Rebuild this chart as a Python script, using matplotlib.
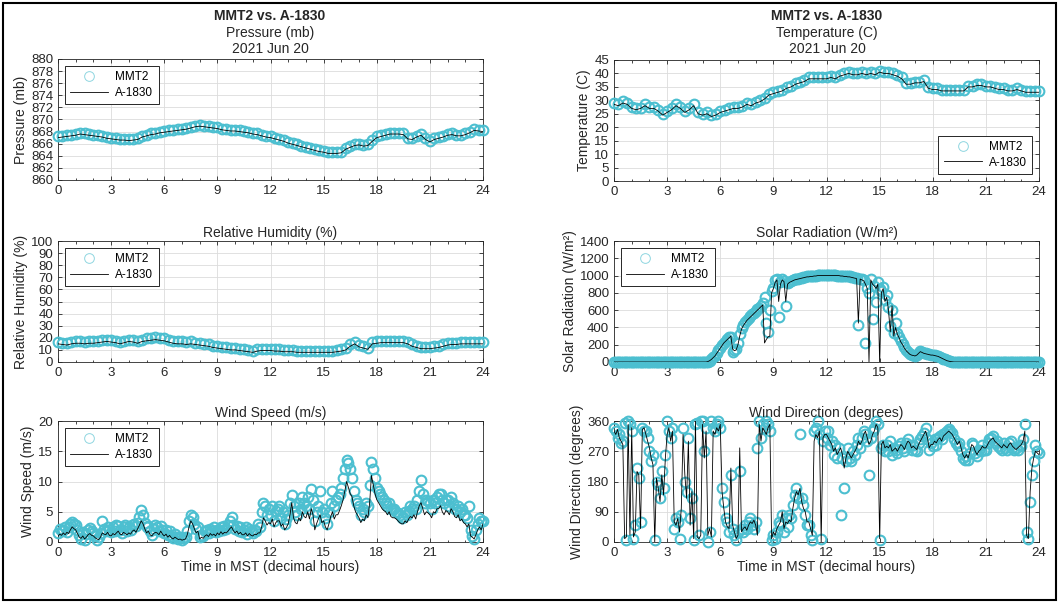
import numpy as np
import matplotlib
matplotlib.use('Agg')
import matplotlib.pyplot as plt
from matplotlib.patches import Rectangle
from matplotlib.ticker import MultipleLocator

plt.rcParams['font.family'] = ['Liberation Sans', 'DejaVu Sans']

# ---- data (hours, MST) ----
t_q = np.arange(97) * 0.25     # quarter-hour grid
t_d = np.arange(241) * 0.1     # tenth-hour grid

pres_mmt2 = [
    867.2, 867.3, 867.4, 867.5, 867.6, 867.8, 867.7, 867.6,
    867.5, 867.4, 867.3, 867.1, 867.0, 866.9, 866.8, 866.8,
    866.7, 866.8, 866.9, 867.3, 867.5, 867.7, 867.8, 868.0,
    868.1, 868.2, 868.3, 868.4, 868.5, 868.6, 868.8, 869.0,
    869.1, 869.0, 868.9, 868.8, 868.7, 868.5, 868.4, 868.3,
    868.3, 868.2, 868.1, 868.0, 867.8, 867.7, 867.5, 867.3,
    867.2, 867.0, 866.8, 866.6, 866.3, 866.1, 865.9, 865.7,
    865.5, 865.3, 865.1, 864.9, 864.8, 864.6, 864.6, 864.6,
    864.7, 865.3, 865.6, 865.9, 866.0, 865.8, 865.9, 866.6,
    867.2, 867.4, 867.6, 867.8, 867.8, 867.8, 867.7, 867.0,
    866.9, 867.3, 867.6, 866.9, 866.5, 866.9, 867.1, 867.3,
    867.6, 867.7, 867.5, 867.5, 867.7, 868.0, 868.4, 868.3,
    868.2]
pres_a1830 = [
    867.0, 867.1, 867.2, 867.3, 867.4, 867.6, 867.5, 867.4,
    867.3, 867.2, 867.1, 866.9, 866.8, 866.7, 866.6, 866.6,
    866.5, 866.6, 866.7, 867.1, 867.3, 867.5, 867.6, 867.8,
    867.9, 868.0, 868.1, 868.2, 868.3, 868.4, 868.6, 868.8,
    868.9, 868.8, 868.7, 868.6, 868.5, 868.3, 868.2, 868.1,
    868.1, 868.0, 867.9, 867.8, 867.6, 867.5, 867.3, 867.1,
    867.0, 866.8, 866.6, 866.4, 866.1, 865.9, 865.7, 865.5,
    865.3, 865.1, 864.9, 864.7, 864.6, 864.4, 864.4, 864.4,
    864.5, 865.1, 865.4, 865.7, 865.8, 865.6, 865.7, 866.4,
    867.0, 867.2, 867.4, 867.6, 867.6, 867.6, 867.5, 866.8,
    866.7, 867.1, 867.4, 866.7, 866.3, 866.7, 866.9, 867.1,
    867.4, 867.5, 867.3, 867.3, 867.5, 867.8, 868.2, 868.1,
    868.0]

temp_mmt2 = [
    29.0, 28.5, 29.8, 29.0, 27.5, 27.0, 27.0, 28.5,
    27.5, 27.5, 26.5, 25.0, 26.0, 27.0, 28.5, 27.5,
    26.0, 27.0, 28.5, 25.5, 25.0, 25.5, 24.5, 25.0,
    26.0, 26.5, 27.0, 27.5, 27.5, 28.0, 29.0, 28.5,
    29.5, 30.0, 31.0, 32.5, 33.0, 33.5, 34.0, 35.0,
    35.5, 36.5, 37.0, 37.5, 38.5, 38.5, 38.5, 38.5,
    38.5, 39.0, 38.5, 39.5, 40.0, 40.5, 40.0, 40.0,
    40.5, 40.0, 40.5, 40.0, 41.0, 40.5, 40.5, 40.0,
    39.5, 38.5, 36.5, 36.5, 37.0, 37.0, 37.5, 35.0,
    34.5, 34.5, 34.0, 34.0, 34.0, 34.0, 34.0, 34.0,
    35.5, 35.5, 36.0, 36.0, 35.5, 35.5, 35.0, 34.5,
    34.5, 34.0, 34.0, 34.5, 34.0, 33.5, 33.5, 33.5,
    33.5]
temp_a1830 = [
    28.5, 28.0, 29.0, 28.5, 27.0, 26.5, 27.0, 28.0,
    27.0, 27.0, 26.0, 24.5, 25.5, 26.5, 28.0, 27.0,
    25.5, 26.5, 28.0, 25.0, 24.5, 25.0, 24.0, 24.5,
    25.5, 26.0, 26.5, 27.0, 27.0, 27.5, 28.5, 28.0,
    29.0, 29.5, 30.5, 32.0, 32.5, 33.0, 33.5, 34.5,
    35.0, 36.0, 36.5, 37.0, 38.0, 38.0, 38.0, 38.0,
    38.0, 38.5, 38.0, 39.0, 39.5, 40.0, 39.5, 39.5,
    40.0, 39.5, 40.0, 39.5, 40.5, 40.0, 40.0, 39.5,
    39.0, 38.0, 36.0, 36.0, 36.5, 36.5, 37.0, 34.5,
    34.0, 34.0, 33.5, 33.5, 33.5, 33.5, 33.5, 33.5,
    35.0, 35.0, 35.5, 35.5, 35.0, 35.0, 34.5, 34.0,
    34.0, 33.5, 33.5, 34.0, 33.5, 33.0, 33.0, 33.0,
    33.0]

rh_mmt2 = [
    16.5, 16.0, 15.5, 16.5, 17.0, 17.0, 16.5, 17.0,
    17.0, 17.5, 18.0, 18.5, 18.0, 17.5, 16.5, 17.5,
    18.5, 18.0, 17.0, 18.5, 19.5, 19.5, 20.5, 20.0,
    19.5, 18.5, 17.5, 17.0, 17.0, 16.5, 17.0, 16.0,
    15.5, 15.0, 14.5, 13.5, 13.0, 12.5, 12.0, 11.5,
    11.5, 11.0, 10.5, 10.0, 9.5, 10.5, 11.0, 11.0,
    11.0, 10.5, 10.5, 10.0, 10.0, 10.0, 9.5, 9.5,
    9.5, 9.5, 9.5, 9.5, 9.5, 9.5, 9.5, 10.0,
    10.5, 11.5, 14.5, 16.5, 14.0, 13.0, 11.5, 16.5,
    17.0, 17.5, 17.5, 17.5, 17.5, 17.5, 17.5, 16.5,
    14.5, 13.5, 12.0, 12.5, 12.5, 13.0, 13.5, 14.5,
    15.5, 16.0, 16.0, 16.5, 16.5, 16.5, 16.5, 16.5,
    16.5]
rh_a1830 = [
    15.0, 14.5, 14.0, 15.0, 15.5, 15.5, 15.0, 15.5,
    15.5, 16.0, 16.5, 17.0, 16.5, 16.0, 15.0, 16.0,
    17.0, 16.5, 15.5, 17.0, 17.5, 18.0, 18.5, 18.0,
    17.5, 16.5, 15.5, 15.0, 15.0, 14.5, 15.0, 14.5,
    14.0, 13.5, 13.0, 12.0, 11.5, 11.0, 10.5, 10.0,
    10.0, 9.5, 9.0, 8.5, 8.0, 9.0, 9.5, 9.5,
    9.5, 9.0, 9.0, 8.5, 8.5, 8.5, 8.0, 8.0,
    8.0, 8.0, 8.0, 8.0, 8.0, 8.0, 8.0, 8.5,
    9.0, 10.0, 13.0, 15.0, 12.5, 11.5, 10.5, 15.0,
    15.5, 16.0, 16.0, 16.0, 16.0, 16.0, 16.0, 15.0,
    13.0, 12.0, 11.0, 11.0, 11.0, 11.5, 12.0, 13.0,
    14.0, 14.5, 14.5, 15.0, 15.0, 15.0, 15.0, 15.0,
    15.0]

solar_mmt2 = [
    0, 0, 0, 0, 0, 0, 0, 0, 0, 0,
    0, 0, 0, 0, 0, 0, 0, 0, 0, 0,
    0, 0, 0, 0, 0, 0, 0, 0, 0, 0,
    0, 0, 0, 0, 0, 0, 0, 0, 0, 0,
    0, 0, 0, 0, 0, 0, 0, 0, 0, 0,
    0, 0, 0, 5, 15, 35, 55, 75, 105, 135,
    165, 195, 225, 245, 265, 285, 290, 110, 140, 150,
    220, 320, 390, 430, 460, 490, 510, 530, 550, 570,
    590, 610, 630, 650, 680, 750, 450, 350, 600, 820,
    860, 950, 960, 520, 920, 960, 940, 650, 910, 930,
    940, 945, 955, 960, 965, 970, 975, 980, 985, 990,
    990, 995, 995, 1000, 1000, 1005, 1005, 1005, 1005, 1005,
    1005, 1005, 1005, 1005, 1005, 1005, 1000, 1000, 1000, 1000,
    995, 995, 990, 990, 985, 980, 975, 970, 430, 965,
    955, 945, 220, 860, 800, 960, 500, 880, 700, 920,
    850, 820, 870, 720, 780, 640, 420, 600, 330, 450,
    330, 290, 240, 210, 170, 140, 115, 95, 85, 80,
    75, 85, 105, 130, 115, 105, 100, 95, 90, 85,
    85, 80, 75, 70, 60, 50, 40, 30, 20, 12,
    6, 3, 0, 0, 0, 0, 0, 0, 0, 0,
    0, 0, 0, 0, 0, 0, 0, 0, 0, 0,
    0, 0, 0, 0, 0, 0, 0, 0, 0, 0,
    0, 0, 0, 0, 0, 0, 0, 0, 0, 0,
    0, 0, 0, 0, 0, 0, 0, 0, 0, 0,
    0]
solar_a1830 = [
    0, 0, 0, 0, 0, 0, 0, 0, 0, 0,
    0, 0, 0, 0, 0, 0, 0, 0, 0, 0,
    0, 0, 0, 0, 0, 0, 0, 0, 0, 0,
    0, 0, 0, 0, 0, 0, 0, 0, 0, 0,
    0, 0, 0, 0, 0, 0, 0, 0, 0, 0,
    0, 0, 0, 5, 15, 30, 50, 70, 100, 130,
    160, 190, 220, 240, 260, 280, 300, 150, 130, 140,
    200, 300, 380, 420, 450, 480, 500, 520, 540, 560,
    580, 600, 620, 640, 660, 220, 260, 290, 300, 800,
    850, 920, 950, 700, 900, 950, 930, 700, 900, 920,
    930, 940, 950, 955, 960, 965, 970, 975, 980, 985,
    985, 990, 990, 995, 995, 1000, 1000, 1000, 1000, 1000,
    1000, 1000, 1000, 1000, 1000, 1000, 1000, 1000, 995, 995,
    990, 990, 985, 985, 980, 975, 970, 965, 450, 960,
    950, 940, 900, 850, 0, 950, 900, 880, 850, 900,
    0, 800, 850, 700, 750, 600, 350, 650, 300, 400,
    320, 280, 230, 200, 160, 130, 110, 90, 80, 75,
    70, 80, 100, 120, 110, 100, 95, 90, 85, 80,
    80, 75, 70, 65, 55, 45, 35, 25, 15, 10,
    5, 2, 0, 0, 0, 0, 0, 0, 0, 0,
    0, 0, 0, 0, 0, 0, 0, 0, 0, 0,
    0, 0, 0, 0, 0, 0, 0, 0, 0, 0,
    0, 0, 0, 0, 0, 0, 0, 0, 0, 0,
    0, 0, 0, 0, 0, 0, 0, 0, 0, 0,
    0]

ws_mmt2 = [
    1.5, 2.2, 1.8, 2.0, 2.5, 1.6, 2.4, 3.0, 3.3, 3.0,
    2.8, 2.0, 1.2, 0.5, 1.6, 0.4, 1.3, 2.0, 2.3, 1.8,
    1.5, 1.0, 0.3, 0.8, 1.5, 3.5, 2.2, 1.8, 2.5, 2.0,
    1.6, 2.5, 1.8, 2.8, 2.6, 2.0, 1.5, 2.4, 2.8, 1.8,
    2.5, 2.0, 2.8, 3.0, 2.6, 3.2, 4.2, 5.3, 4.5, 3.2,
    2.4, 2.6, 1.8, 1.2, 2.2, 2.8, 2.5, 1.8, 2.6, 2.0,
    1.5, 2.0, 1.2, 1.8, 1.0, 0.6, 1.4, 0.8, 0.5, 0.8,
    0.4, 0.6, 0.8, 1.8, 3.5, 4.5, 4.2, 3.0, 2.2, 2.5,
    0.8, 1.2, 1.0, 1.8, 2.0, 1.5, 2.2, 1.8, 2.4, 1.6,
    2.0, 1.8, 2.5, 2.0, 2.6, 2.2, 2.8, 3.5, 4.2, 2.8,
    2.2, 2.6, 1.8, 2.4, 1.6, 2.0, 2.5, 1.4, 2.2, 1.8,
    1.5, 2.0, 1.8, 3.0, 2.5, 5.0, 6.5, 6.0, 4.5, 5.5,
    4.5, 6.0, 3.5, 5.2, 5.5, 6.0, 4.0, 5.0, 3.0, 3.8,
    4.5, 6.5, 7.8, 6.0, 5.0, 4.5, 6.5, 5.5, 7.5, 6.5,
    6.0, 7.5, 5.5, 8.8, 7.0, 3.5, 5.0, 6.0, 8.5, 5.0,
    5.5, 4.0, 3.0, 5.0, 6.5, 8.5, 6.0, 7.0, 7.5, 8.0,
    9.0, 10.5, 12.0, 13.5, 13.0, 12.0, 10.5, 8.5, 7.0, 6.5,
    6.0, 4.5, 5.5, 5.0, 6.5, 6.0, 9.5, 13.2, 12.0, 10.5,
    9.0, 8.5, 8.0, 7.5, 7.0, 6.5, 6.0, 6.5, 5.5, 5.5,
    5.5, 5.0, 4.8, 4.5, 4.0, 4.2, 5.0, 4.5, 5.2, 6.0,
    5.5, 6.0, 5.5, 7.0, 8.5, 10.3, 8.0, 6.5, 7.0, 6.8,
    6.5, 5.5, 7.0, 6.5, 7.5, 8.0, 8.0, 7.0, 6.5, 7.0,
    7.0, 6.0, 7.5, 6.5, 5.5, 5.5, 6.0, 5.0, 5.5, 4.5,
    4.5, 4.0, 6.0, 2.0, 1.0, 0.5, 2.0, 3.0, 4.0, 3.5,
    3.5]
ws_a1830 = [
    1.0, 1.3, 1.1, 1.5, 1.2, 1.6, 1.4, 2.0, 2.5, 2.2,
    2.0, 1.4, 0.8, 0.6, 1.0, 0.5, 0.8, 1.2, 1.4, 1.1,
    1.0, 0.7, 0.5, 0.4, 0.8, 1.5, 1.3, 1.2, 1.6, 1.1,
    1.0, 1.4, 1.2, 1.5, 1.8, 1.3, 1.2, 1.6, 1.4, 1.2,
    1.5, 1.3, 1.8, 2.0, 1.6, 2.2, 2.8, 3.5, 3.0, 2.2,
    1.5, 1.8, 1.2, 1.0, 1.4, 1.6, 1.5, 1.2, 1.8, 1.3,
    1.0, 1.3, 0.8, 1.1, 0.7, 0.5, 0.8, 0.6, 0.4, 0.5,
    0.3, 0.4, 0.5, 1.2, 2.5, 3.5, 3.0, 2.2, 1.5, 1.8,
    0.5, 0.8, 0.6, 1.0, 1.2, 0.9, 1.4, 1.1, 1.3, 1.0,
    1.5, 1.2, 1.7, 1.3, 1.6, 1.5, 1.8, 2.2, 2.5, 1.9,
    1.5, 1.8, 1.3, 1.6, 1.2, 1.2, 1.5, 1.0, 1.4, 1.1,
    1.0, 1.3, 1.2, 1.5, 1.5, 2.5, 4.0, 3.5, 2.8, 3.2,
    3.0, 3.8, 2.5, 3.2, 3.5, 3.5, 2.6, 3.0, 2.0, 2.4,
    3.0, 4.5, 6.5, 4.0, 3.2, 3.0, 4.0, 3.5, 5.0, 4.2,
    4.0, 5.0, 3.8, 5.5, 4.5, 2.0, 3.0, 3.8, 4.5, 3.2,
    3.5, 2.5, 2.0, 3.0, 4.2, 5.0, 3.8, 4.5, 4.5, 5.2,
    6.0, 7.0, 8.5, 10.0, 9.0, 8.0, 7.5, 6.0, 5.0, 4.5,
    4.0, 3.2, 3.8, 3.5, 4.5, 4.0, 6.5, 11.0, 9.5, 8.0,
    7.0, 6.5, 6.0, 5.5, 5.2, 5.0, 4.5, 5.0, 4.2, 4.0,
    4.0, 3.8, 3.5, 3.2, 3.0, 3.0, 3.5, 3.2, 3.8, 4.2,
    4.0, 4.5, 3.8, 5.0, 6.0, 6.5, 5.5, 4.5, 5.0, 4.8,
    4.5, 4.0, 5.0, 4.8, 5.5, 5.5, 6.0, 5.0, 4.5, 5.2,
    5.0, 4.5, 5.5, 5.0, 4.2, 4.0, 4.5, 3.5, 3.8, 3.2,
    3.0, 2.5, 3.0, 1.0, 0.8, 0.5, 1.2, 2.0, 2.5, 2.0,
    3.0]

wd_mmt2 = [
    340, 330, 310, 320, 295, 300, 355, 5, 360, 350,
    330, 10, 50, 220, 190, 60, 340, 330, 330, 310,
    270, 240, 260, 5, 180, 170, 130, 210, 160, 260,
    360, 330, 310, 340, 40, 70, 60, 10, 80, 340,
    180, 150, 310, 70, 130, 5, 350, 355, 20, 360,
    360, 270, 340, 0, 30, 360, 340, 330, 350, 360,
    340, 160, 120, 70, 60, 30, 200, 40, 20, 5,
    30, 210, 40, 30, 50, 40, 60, 70, 50, 40,
    60, 280, 360, 310, 350, 340, 360, 350, 330, 5,
    20, 10, 30, 60, 50, 80, 30, 70, 45, 80,
    70, 110, 140, 160, 130, 320, 130, 110, 80, 50,
    50, 20, 5, 330, 340, 360, 320, 10, 300, 330,
    310, 330, 290, 300, 260, 290, 250, 280, 80, 250,
    160, 240, 280, 250, 240, 270, 260, 290, 310, 280,
    310, 330, 320, 300, 200, 310, 330, 340, 360, 350,
    5, 280, 290, 270, 290, 270, 300, 260, 280, 275,
    265, 285, 295, 280, 270, 295, 305, 290, 275, 290,
    275, 270, 295, 305, 315, 325, 340, 305, 275, 295,
    285, 305, 290, 310, 315, 305, 320, 325, 330, 335,
    330, 325, 305, 295, 285, 295, 270, 250, 245, 255,
    245, 265, 295, 290, 265, 255, 275, 270, 290, 275,
    275, 295, 305, 310, 315, 295, 300, 285, 280, 275,
    295, 280, 275, 295, 300, 280, 275, 280, 275, 290,
    285, 305, 350, 30, 10, 120, 200, 240, 290, 270,
    265]
wd_a1830 = [
    330, 320, 335, 310, 300, 290, 10, 15, 350, 20,
    340, 15, 30, 210, 200, 40, 335, 340, 320, 300,
    280, 250, 230, 0, 190, 160, 120, 200, 140, 250,
    320, 340, 300, 330, 60, 50, 70, 30, 100, 320,
    200, 130, 300, 50, 150, 10, 360, 15, 10, 20,
    350, 250, 330, 20, 40, 15, 330, 320, 340, 330,
    350, 150, 100, 60, 45, 40, 220, 50, 30, 10,
    20, 280, 30, 40, 45, 35, 50, 60, 55, 65,
    50, 20, 350, 300, 340, 330, 320, 340, 350, 10,
    30, 20, 40, 50, 60, 90, 40, 60, 55, 65,
    60, 100, 130, 150, 140, 160, 120, 100, 90, 60,
    60, 40, 20, 300, 320, 310, 330, 0, 310, 320,
    320, 310, 300, 290, 270, 280, 260, 270, 280, 260,
    220, 250, 270, 260, 250, 260, 270, 280, 300, 290,
    300, 320, 330, 310, 290, 300, 320, 330, 350, 340,
    10, 290, 300, 280, 285, 280, 290, 270, 275, 280,
    270, 280, 290, 285, 275, 290, 300, 295, 280, 285,
    280, 275, 290, 300, 310, 320, 330, 310, 280, 290,
    290, 300, 295, 305, 310, 300, 315, 320, 325, 330,
    325, 320, 310, 300, 290, 300, 280, 260, 250, 260,
    250, 270, 290, 285, 270, 260, 270, 275, 285, 280,
    280, 290, 300, 305, 310, 300, 295, 290, 285, 280,
    290, 285, 280, 290, 295, 285, 280, 275, 280, 285,
    290, 300, 330, 20, 10, 150, 220, 250, 270, 265,
    260]

# ---- layout (pixels of a 1061x608 canvas) ----
W, H = 1061, 608
fig = plt.figure(figsize=(W / 100, H / 100), dpi=100)
fig.patches.append(Rectangle((3 / W, 1 - 600 / H), 1053 / W, 597 / H,
                             transform=fig.transFigure, fill=False,
                             edgecolor='black', linewidth=1.5))

cyan = '#4cbfd0'
dark = '#262626'
mk = dict(marker='o', ls='none', mfc='none', mec=cyan, ms=7, mew=1.5,
          clip_on=False, zorder=3)


def make_ax(x0, top, w=425, h=121):
    ax = fig.add_axes([x0 / W, 1 - (top + h) / H, w / W, h / H])
    ax.set_xlim(0, 24)
    ax.xaxis.set_major_locator(MultipleLocator(3))
    ax.xaxis.set_minor_locator(MultipleLocator(1))
    ax.tick_params(which='both', direction='in', top=True, right=True,
                   colors=dark, labelsize=9.5, width=0.6)
    ax.tick_params(which='major', length=3)
    ax.tick_params(which='minor', length=1.8)
    ax.grid(True, which='major', color='#dcdcdc', linewidth=0.6)
    ax.set_axisbelow(True)
    for s in ax.spines.values():
        s.set_color(dark)
        s.set_linewidth(0.6)
    return ax


def draw(ax, t, mmt2, a1830, ylab, legloc):
    ax.plot(t, mmt2, label='MMT2', **mk)
    ax.plot(t, a1830, '-', color='black', lw=0.6, label='A-1830', zorder=4)
    ax.set_ylabel(ylab, fontsize=10, color=dark, labelpad=2)
    leg = ax.legend(loc=legloc, fontsize=8.5, handlelength=3.2,
                    borderpad=0.45, labelspacing=0.3, handletextpad=0.6,
                    fancybox=False, framealpha=1, borderaxespad=0.6)
    leg.get_frame().set_edgecolor(dark)
    leg.get_frame().set_linewidth(0.7)
    h0 = leg.legend_handles[0]
    h0.set_markeredgewidth(0.7)
    h0.set_markeredgecolor('#8fd6e0')


tkw = dict(fontsize=10, color=dark)

# Pressure
ax = make_ax(58, 59)
draw(ax, t_q, pres_mmt2, pres_a1830, 'Pressure (mb)', 'upper left')
ax.set_ylim(860, 880)
ax.yaxis.set_major_locator(MultipleLocator(2))

# Temperature
ax = make_ax(614, 60)
draw(ax, t_q, temp_mmt2, temp_a1830, 'Temperature (C)', 'lower right')
ax.set_ylim(0, 45)
ax.yaxis.set_major_locator(MultipleLocator(5))

for xc, name in [(270, 'Pressure (mb)'), (827, 'Temperature (C)')]:
    fig.text(xc / W, 1 - 16 / H, 'MMT2 vs. A-1830', ha='center', va='center',
             fontweight='bold', **tkw)
    fig.text(xc / W, 1 - 33 / H, name, ha='center', va='center', **tkw)
    fig.text(xc / W, 1 - 49 / H, '2021 Jun 20', ha='center', va='center', **tkw)

# Relative humidity
ax = make_ax(58, 241)
draw(ax, t_q, rh_mmt2, rh_a1830, 'Relative Humidity (%)', 'upper left')
ax.set_ylim(0, 100)
ax.yaxis.set_major_locator(MultipleLocator(10))
ax.set_title('Relative Humidity (%)', pad=3, **tkw)

# Solar radiation
ax = make_ax(614, 241)
draw(ax, t_d, solar_mmt2, solar_a1830, 'Solar Radiation (W/m²)', 'upper left')
ax.set_ylim(0, 1400)
ax.yaxis.set_major_locator(MultipleLocator(200))
ax.set_title('Solar Radiation (W/m²)', pad=3, **tkw)

# Wind speed
ax = make_ax(58, 421)
draw(ax, t_d, ws_mmt2, ws_a1830, 'Wind Speed (m/s)', 'upper left')
ax.set_ylim(0, 20)
ax.yaxis.set_major_locator(MultipleLocator(5))
ax.set_title('Wind Speed (m/s)', pad=3, **tkw)
ax.set_xlabel('Time in MST (decimal hours)', labelpad=1, **tkw)

# Wind direction
ax = make_ax(614, 421)
ax.plot(t_d, wd_mmt2, **mk)
ax.plot(t_d, wd_a1830, '-', color='black', lw=0.6, zorder=4)
ax.set_ylim(0, 360)
ax.yaxis.set_major_locator(MultipleLocator(90))
ax.set_ylabel('Wind Direction (degrees)', fontsize=10, color=dark, labelpad=2)
ax.set_title('Wind Direction (degrees)', pad=3, **tkw)
ax.set_xlabel('Time in MST (decimal hours)', labelpad=1, **tkw)

fig.savefig('out.png', dpi=100)
